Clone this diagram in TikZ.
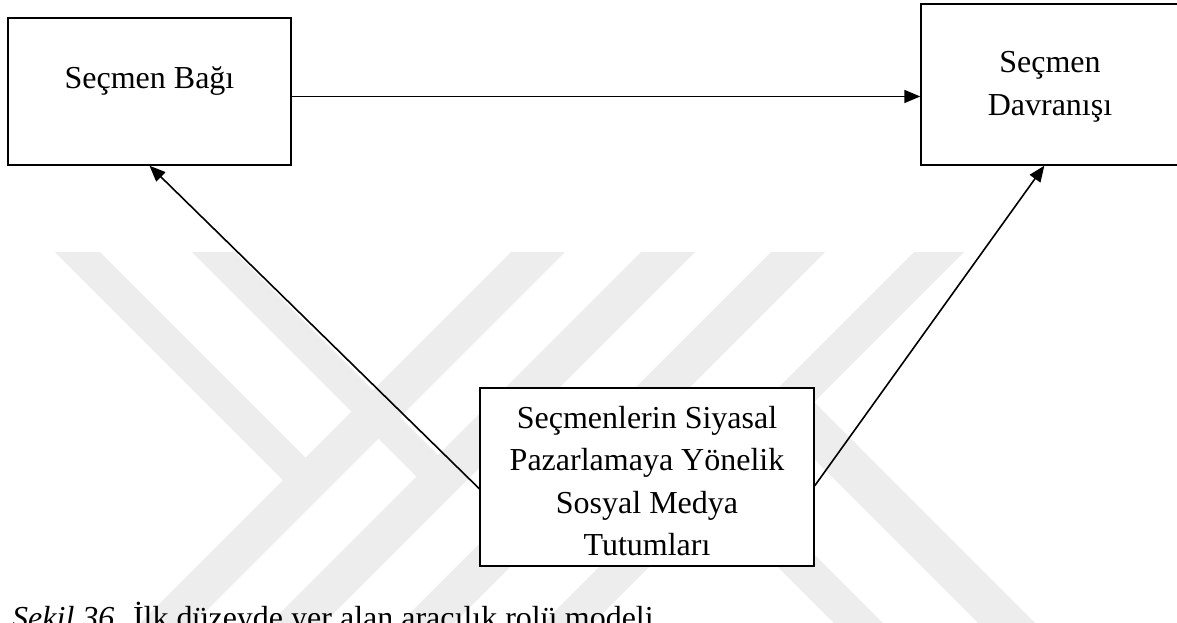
\documentclass[tikz,border=0pt]{standalone}
\usepackage{fontspec}
\setmainfont{Liberation Serif}
\usetikzlibrary{arrows.meta}
\definecolor{wmgray}{RGB}{237,237,237}
\tikzset{
  box/.style={draw=black, line width=1.4pt, fill=white, inner sep=0pt},
  lbl/.style={anchor=base, inner sep=0pt, font=\fontsize{32}{38}\selectfont},
  link/.style={draw=black, line width=1.6pt, -{Triangle[length=16pt,width=13pt]}},
  wm/.style={fill=wmgray, draw=none}
}
\begin{document}
\begin{tikzpicture}[x=1pt,y=-1pt]
\clip (0,0) rectangle (1177,622);
\fill[white] (0,0) rectangle (1177,622);

% background emblem: long "/" stripes
\fill[wm] (511,252) -- (565,252) -- (117,700) -- (63,700) -- cycle;
\fill[wm] (641,252) -- (695,252) -- (247,700) -- (193,700) -- cycle;
\fill[wm] (771,252) -- (825,252) -- (377,700) -- (323,700) -- cycle;
\fill[wm] (914,252) -- (964,252) -- (516,700) -- (466,700) -- cycle;
% upper-left "\" arms
\fill[wm] (55,252) -- (100,252) -- (319,471) -- (296.5,493.5) -- cycle;
\fill[wm] (192,252) -- (235,252) -- (451.5,468.5) -- (430,490) -- cycle;
% lower-right "\" arms
\fill[wm] (772.5,417.5) -- (801,389) -- (1112,700) -- (1055,700) -- cycle;
\fill[wm] (630.5,419.5) -- (655,395) -- (960,700) -- (911,700) -- cycle;

% boxes
\node[box, minimum width=283pt, minimum height=147pt] (b1) at (149.5,91.5) {};
\node[box, minimum width=258pt, minimum height=161pt] (b2) at (1050,84.5) {};
\node[box, minimum width=334pt, minimum height=178pt] (b3) at (647,477) {};

% connectors
\draw[link] (b1.358.6) -- (b1.358.6 -| b2.west);
\draw[link] (b3.184) -- (b1.south);
\draw[link] (b3.357) -- (b2.266);

% labels
\node[lbl] (t1) at (149.5,88) {Seçmen Bağı};
\node[lbl] (t2a) at (1050,72) {Seçmen};
\node[lbl] (t2b) at (1050,115) {Davranışı};
\node[lbl] (t3a) at (647,428) {Seçmenlerin Siyasal};
\node[lbl] (t3b) at (647,470.5) {Pazarlamaya Yönelik};
\node[lbl] (t3c) at (647,513) {Sosyal Medya};
\node[lbl] (t3d) at (647,555.5) {Tutumları};

% caption
\node[lbl, anchor=base west] (cap) at (12,628) {\textit{Şekil 36.} İlk düzeyde yer alan aracılık rolü modeli};
\end{tikzpicture}
\end{document}
